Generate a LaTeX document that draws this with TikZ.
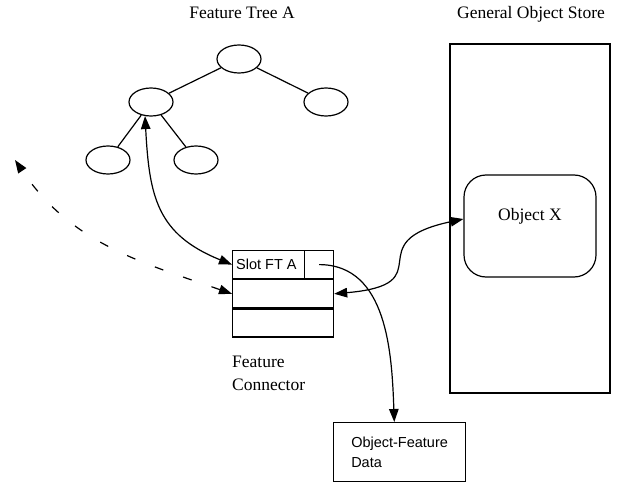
\documentclass[tikz,border=0pt]{standalone}
\usepackage{fontspec}
\setmainfont{Liberation Serif}
\setsansfont{Liberation Sans}
\usetikzlibrary{shapes.geometric,arrows.meta}

\begin{document}
\begin{tikzpicture}[
                x = 1pt, y = -1pt,
                feat/.style = {draw, ellipse, line width = 1.2pt, inner sep = 0mm, minimum width = 44pt, minimum height = 28pt},
                cell/.style = {draw, rectangle, line width = 1.2pt, inner sep = 0mm, minimum height = 28pt},
                heading/.style = {font = \fontsize{17.5}{23}\selectfont},
                sans/.style = {font = \sffamily\fontsize{14.5}{20}\selectfont},
                link/.style = {draw, line width = 1.2pt},
                arr/.style = {draw, line width = 1.2pt, -{Triangle[length = 13pt, width = 9.5pt]}},
                darr/.style = {draw, line width = 1.2pt, {Triangle[length = 13pt, width = 9.5pt]}-{Triangle[length = 13pt, width = 9.5pt]}},
            ]
            \useasboundingbox (0,0) rectangle (624,484);

            % feature tree
            \node (treetitle) [heading, anchor = base] at (242,19) {Feature Tree A};
            \node (root) [feat] at (239,59){};
            \node (lmid) [feat] at (151,102){};
            \node (rmid) [feat] at (326,102){};
            \node (bl) [feat] at (108,160){};
            \node (br) [feat] at (196,160){};

            \path[link] (root) -- (lmid);
            \path[link] (root) -- (rmid);
            \path[link] (lmid) -- (bl);
            \path[link] (lmid) -- (br);

            % object store
            \node (storetitle) [heading, anchor = base] at (531,19) {General Object Store};
            \node (store) [draw, line width = 1.4pt, minimum width = 160pt, minimum height = 349pt] at (530,218.5){};
            \node (objx) [draw, line width = 1.2pt, rounded corners = 22pt, minimum width = 132pt, minimum height = 102pt,
                label = {[heading, yshift = 10pt]center:Object X}] at (530,226){};

            % feature connector
            \node (slot) [cell, minimum width = 101pt, anchor = north west] at (232,250){};
            \node (slottxt) [sans, anchor = west, inner sep = 4pt] at (slot.west) {Slot FT A};
            \node (pin) [cell, minimum width = 29pt, anchor = north east] at (slot.north east){};
            \node (row2) [cell, minimum width = 101pt, anchor = north] at (slot.south){};
            \node (row3) [cell, minimum width = 101pt, anchor = north] at (row2.south){};
            \node (conntitle) [heading, align = left, anchor = north west, inner sep = 0pt] at (232,356) {Feature\\Connector};

            \node (data) [cell, sans, align = left, minimum width = 132pt, minimum height = 59pt, anchor = north west] at (333,422) {Object-Feature\\Data};

            \coordinate (away) at (15,160);

            \path[darr] (lmid.-113) to[out = -87, in = 158, looseness = 1.2] (slot.west);
            \path[darr, dash pattern = on 9pt off 21pt] (row2.west) to[out = 161, in = -56] (away);
            \path[darr] (row2.east) to[out = 5, in = 192, looseness = 1.9] (objx.174);
            \path[arr] (pin.center) to[out = 0, in = 92] (data.100);
        \end{tikzpicture}
\end{document}
